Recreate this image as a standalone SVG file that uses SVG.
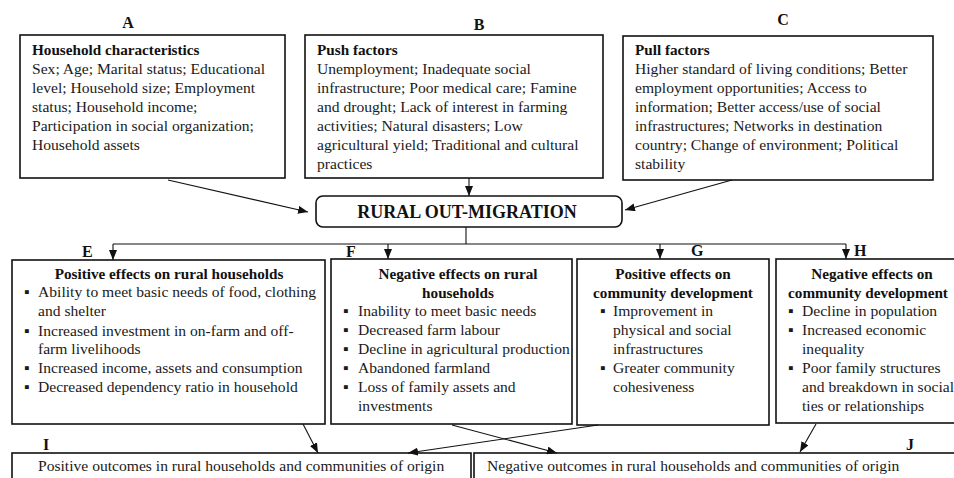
<svg xmlns="http://www.w3.org/2000/svg" width="954" height="478" viewBox="0 0 954 478">
<defs>
<marker id="ah" markerUnits="userSpaceOnUse" markerWidth="10" markerHeight="8" refX="10" refY="4" orient="auto">
<path d="M0,0 L10,4 L0,8 Z" fill="#111"/>
</marker>
<style>
.box{fill:#fff;stroke:#111;stroke-width:1.6}
.t{font-family:"Liberation Serif","Times New Roman",serif;font-size:15.6px;fill:#1a1a1a}
.b{font-family:"Liberation Serif","Times New Roman",serif;font-size:15.2px;font-weight:bold;fill:#111}
.lab{font-family:"Liberation Serif","Times New Roman",serif;font-size:16px;font-weight:bold;fill:#111}
.big{font-size:18px}
.c{text-anchor:middle}
.ln{fill:none;stroke:#111;stroke-width:1.1}
.ar{fill:none;stroke:#111;stroke-width:1.1;marker-end:url(#ah)}
</style>
</defs>
<rect width="954" height="478" fill="#fff"/>

<g id="nodeA">
<text class="lab c" x="128" y="28">A</text>
<rect class="box" x="20" y="35" width="265" height="143"/>
<text class="b" x="32" y="55">Household characteristics</text>
<text class="t" x="32" y="74">Sex; Age; Marital status; Educational</text>
<text class="t" x="32" y="93">level; Household size; Employment</text>
<text class="t" x="32" y="112">status; Household income;</text>
<text class="t" x="32" y="131">Participation in social organization;</text>
<text class="t" x="32" y="150">Household assets</text>
</g>

<g id="nodeB">
<text class="lab c" x="479" y="30">B</text>
<rect class="box" x="305" y="35" width="298" height="143"/>
<text class="b" x="317" y="55">Push factors</text>
<text class="t" x="317" y="74">Unemployment; Inadequate social</text>
<text class="t" x="317" y="93">infrastructure; Poor medical care; Famine</text>
<text class="t" x="317" y="112">and drought; Lack of interest in farming</text>
<text class="t" x="317" y="131">activities; Natural disasters; Low</text>
<text class="t" x="317" y="150">agricultural yield; Traditional and cultural</text>
<text class="t" x="317" y="169">practices</text>
</g>

<g id="nodeC">
<text class="lab c" x="783" y="25">C</text>
<rect class="box" x="623" y="36" width="310" height="144"/>
<text class="b" x="635" y="55">Pull factors</text>
<text class="t" x="635" y="74">Higher standard of living conditions; Better</text>
<text class="t" x="635" y="93">employment opportunities; Access to</text>
<text class="t" x="635" y="112">information; Better access/use of social</text>
<text class="t" x="635" y="131">infrastructures; Networks in destination</text>
<text class="t" x="635" y="150">country; Change of environment; Political</text>
<text class="t" x="635" y="169">stability</text>
</g>

<g id="nodeD">
<rect class="box" x="316" y="196" width="306" height="31" rx="7"/>
<text class="lab big c" x="467" y="218">RURAL OUT-MIGRATION</text>
</g>

<g id="nodeE">
<text class="lab" x="82" y="257">E</text>
<rect class="box" x="12" y="260" width="313" height="164"/>
<text class="b c" x="169" y="279">Positive effects on rural households</text>
<text class="t" x="24" y="297">▪</text><text class="t" x="38" y="297">Ability to meet basic needs of food, clothing</text>
<text class="t" x="38" y="316">and shelter</text>
<text class="t" x="24" y="336">▪</text><text class="t" x="38" y="336">Increased investment in on-farm and off-</text>
<text class="t" x="38" y="354">farm livelihoods</text>
<text class="t" x="24" y="373">▪</text><text class="t" x="38" y="373">Increased income, assets and consumption</text>
<text class="t" x="24" y="392">▪</text><text class="t" x="38" y="392">Decreased dependency ratio in household</text>
</g>

<g id="nodeF">
<text class="lab" x="346" y="257">F</text>
<rect class="box" x="331" y="259" width="241" height="165"/>
<text class="b c" x="458" y="279">Negative effects on rural</text>
<text class="b c" x="458" y="298">households</text>
<text class="t" x="343" y="316">▪</text><text class="t" x="358" y="316">Inability to meet basic needs</text>
<text class="t" x="343" y="335">▪</text><text class="t" x="358" y="335">Decreased farm labour</text>
<text class="t" x="343" y="354">▪</text><text class="t" x="358" y="354">Decline in agricultural production</text>
<text class="t" x="343" y="373">▪</text><text class="t" x="358" y="373">Abandoned farmland</text>
<text class="t" x="343" y="392">▪</text><text class="t" x="358" y="392">Loss of family assets and</text>
<text class="t" x="358" y="411">investments</text>
</g>

<g id="nodeG">
<text class="lab" x="691" y="256">G</text>
<rect class="box" x="577" y="259" width="192" height="166"/>
<text class="b c" x="673" y="279">Positive effects on</text>
<text class="b c" x="673" y="298">community development</text>
<text class="t" x="600" y="316">▪</text><text class="t" x="613" y="316">Improvement in</text>
<text class="t" x="613" y="335">physical and social</text>
<text class="t" x="613" y="354">infrastructures</text>
<text class="t" x="600" y="373">▪</text><text class="t" x="613" y="373">Greater community</text>
<text class="t" x="613" y="392">cohesiveness</text>
</g>

<g id="nodeH">
<text class="lab" x="854" y="256">H</text>
<rect class="box" x="776" y="259" width="186" height="164"/>
<text class="b c" x="872" y="279">Negative effects on</text>
<text class="b c" x="868" y="298">community development</text>
<text class="t" x="788" y="316">▪</text><text class="t" x="802" y="316">Decline in population</text>
<text class="t" x="788" y="335">▪</text><text class="t" x="802" y="335">Increased economic</text>
<text class="t" x="802" y="354">inequality</text>
<text class="t" x="788" y="373">▪</text><text class="t" x="802" y="373">Poor family structures</text>
<text class="t" x="802" y="392">and breakdown in social</text>
<text class="t" x="802" y="411">ties or relationships</text>
</g>

<g id="nodeI">
<text class="lab" x="43" y="450">I</text>
<rect class="box" x="12" y="453" width="459" height="40"/>
<text class="t" x="38" y="471">Positive outcomes in rural households and communities of origin</text>
</g>

<g id="nodeJ">
<text class="lab" x="906" y="450">J</text>
<rect class="box" x="474" y="453" width="490" height="40"/>
<text class="t" x="487" y="471">Negative outcomes in rural households and communities of origin</text>
</g>

<g id="connectors">
<line class="ar" x1="168" y1="180" x2="308" y2="212"/>
<line class="ar" x1="469" y1="178" x2="469" y2="196"/>
<line class="ar" x1="732" y1="180" x2="625" y2="210"/>
<line class="ln" x1="466" y1="227" x2="466" y2="244"/>
<line class="ln" x1="113" y1="244" x2="846" y2="244"/>
<line class="ar" x1="113" y1="244" x2="113" y2="260"/>
<line class="ar" x1="388" y1="244" x2="388" y2="259"/>
<line class="ar" x1="660" y1="244" x2="660" y2="259"/>
<line class="ar" x1="846" y1="244" x2="846" y2="259"/>
<line class="ar" x1="303" y1="424" x2="318" y2="453"/>
<line class="ar" x1="452" y1="425" x2="557" y2="453"/>
<line class="ar" x1="598" y1="425" x2="408" y2="453"/>
<line class="ar" x1="816" y1="424" x2="800" y2="452"/>
</g>
</svg>
